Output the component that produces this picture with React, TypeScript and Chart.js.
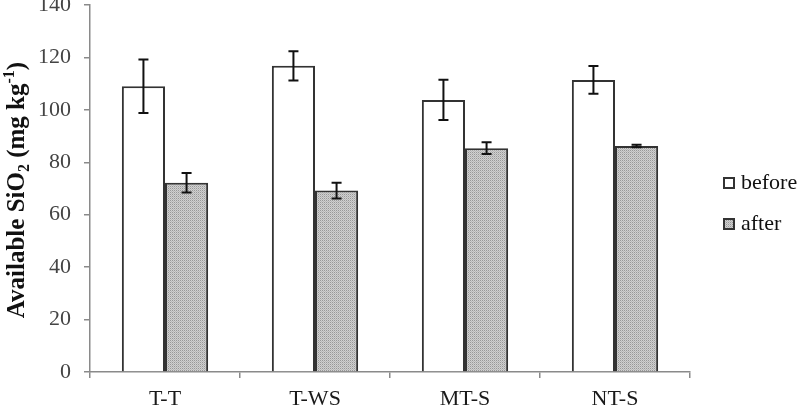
import React, { useEffect, useRef } from "react";
import { Chart, registerables } from "chart.js";

Chart.register(...registerables);

const categories = ["T-T", "T-WS", "MT-S", "NT-S"];
const beforeValues = [109, 116.8, 103.8, 111.4];
const beforeErrors = [10.2, 5.6, 7.7, 5.3];
const afterValues = [72.2, 69.2, 85.4, 86.2];
const afterErrors = [3.7, 3.0, 2.2, 0.5];
const seriesNames = ["before", "after"];
const yTicks = [0, 20, 40, 60, 80, 100, 120, 140];

const SERIF = "'Liberation Serif', 'Times New Roman', serif";

function makeStipple(): CanvasPattern | string {
  const c = document.createElement("canvas");
  c.width = 2;
  c.height = 2;
  const g = c.getContext("2d");
  if (!g) return "#c4c4c4";
  g.fillStyle = "#d0d0d0";
  g.fillRect(0, 0, 2, 2);
  g.fillStyle = "#989898";
  g.fillRect(0, 0, 1, 1);
  g.fillStyle = "#b8b8b8";
  g.fillRect(1, 1, 1, 1);
  const p = g.createPattern(c, "repeat");
  return p || "#c4c4c4";
}

export default function App() {
  const canvasRef = useRef<HTMLCanvasElement | null>(null);

  useEffect(() => {
    const canvas = canvasRef.current;
    if (!canvas) return;
    const stipple = makeStipple();
    const errors = [beforeErrors, afterErrors];
    const fills: (string | CanvasPattern)[] = ["#ffffff", stipple];

    // whiskers for ± error on every bar
    const errorBars = {
      id: "errorBars",
      afterDatasetsDraw(chart: any) {
        const { ctx } = chart;
        const y = chart.scales.y;
        ctx.save();
        ctx.strokeStyle = "#111";
        ctx.lineWidth = 2;
        chart.data.datasets.forEach((ds: any, di: number) => {
          const meta = chart.getDatasetMeta(di);
          meta.data.forEach((bar: any, i: number) => {
            const v = ds.data[i];
            const e = errors[di][i];
            const top = y.getPixelForValue(v + e);
            const bot = y.getPixelForValue(v - e);
            const x = bar.x;
            ctx.beginPath();
            ctx.moveTo(x, top);
            ctx.lineTo(x, bot);
            ctx.moveTo(x - 5, top);
            ctx.lineTo(x + 5, top);
            ctx.moveTo(x - 5, bot);
            ctx.lineTo(x + 5, bot);
            ctx.stroke();
          });
        });
        ctx.restore();
      },
    };

    // rotated y title with sub/superscripts, and the side legend
    const decorations = {
      id: "decorations",
      afterDraw(chart: any) {
        const { ctx } = chart;
        ctx.save();
        const parts: { t: string; size: number; dy: number }[] = [
          { t: "Available SiO", size: 25, dy: 0 },
          { t: "2", size: 16, dy: 5 },
          { t: " (mg kg", size: 25, dy: 0 },
          { t: "-1", size: 16, dy: -10 },
          { t: ")", size: 25, dy: 0 },
        ];
        let total = 0;
        parts.forEach((p) => {
          ctx.font = `bold ${p.size}px ${SERIF}`;
          total += ctx.measureText(p.t).width;
        });
        ctx.translate(24, 190);
        ctx.rotate(-Math.PI / 2);
        ctx.fillStyle = "#111";
        ctx.textBaseline = "alphabetic";
        ctx.textAlign = "left";
        let cx = -total / 2;
        parts.forEach((p) => {
          ctx.font = `bold ${p.size}px ${SERIF}`;
          ctx.fillText(p.t, cx, p.dy);
          cx += ctx.measureText(p.t).width;
        });
        ctx.restore();

        ctx.save();
        const rows = [177, 218];
        seriesNames.forEach((name, i) => {
          const by = rows[i];
          ctx.fillStyle = fills[i] as any;
          ctx.fillRect(723, by, 12, 12);
          ctx.strokeStyle = "#333";
          ctx.lineWidth = 2;
          ctx.strokeRect(724, by + 1, 10, 10);
          ctx.fillStyle = "#111";
          ctx.font = `22px ${SERIF}`;
          ctx.textBaseline = "alphabetic";
          ctx.textAlign = "left";
          ctx.fillText(name, 741, by + 12);
        });
        ctx.restore();
      },
    };

    const chart = new Chart(canvas, {
      type: "bar",
      data: {
        labels: categories,
        datasets: [
          {
            label: seriesNames[0],
            data: beforeValues,
            backgroundColor: fills[0] as any,
            borderColor: "#333",
            borderWidth: 2,
            categoryPercentage: 0.575,
            barPercentage: 1,
          },
          {
            label: seriesNames[1],
            data: afterValues,
            backgroundColor: fills[1] as any,
            borderColor: "#333",
            borderWidth: 2,
            categoryPercentage: 0.575,
            barPercentage: 1,
          },
        ],
      },
      options: {
        responsive: false,
        animation: false,
        layout: { padding: { left: 0, right: 116, top: 5, bottom: 0 } },
        plugins: {
          legend: { display: false },
          tooltip: { enabled: false },
        },
        scales: {
          x: {
            grid: {
              offset: true,
              drawOnChartArea: false,
              drawTicks: true,
              tickLength: 6,
              color: "#8a8a8a",
              lineWidth: 1.5,
            },
            border: { color: "#8a8a8a", width: 1.5 },
            ticks: {
              font: { family: SERIF, size: 22 },
              color: "#1a1a1a",
              padding: 8,
            },
            afterFit: (s: any) => {
              s.height = 36;
              s.paddingLeft = 0;
              s.paddingRight = 0;
            },
          },
          y: {
            min: 0,
            max: 140,
            afterBuildTicks: (s: any) => {
              s.ticks = yTicks.map((v) => ({ value: v }));
            },
            grid: {
              drawOnChartArea: false,
              drawTicks: true,
              tickLength: 6,
              color: "#8a8a8a",
              lineWidth: 1.5,
            },
            border: { color: "#8a8a8a", width: 1.5 },
            ticks: {
              font: { family: SERIF, size: 22 },
              color: "#444",
              padding: 13,
            },
            afterFit: (s: any) => {
              s.width = 90;
              s.paddingTop = 0;
              s.paddingBottom = 0;
            },
          },
        },
      },
      plugins: [errorBars, decorations],
    });

    return () => chart.destroy();
  }, []);

  return (
    <div style={{ position: "fixed", left: 0, top: 0, width: 806, height: 408, background: "#fff" }}>
      <canvas ref={canvasRef} width={806} height={408} />
    </div>
  );
}
